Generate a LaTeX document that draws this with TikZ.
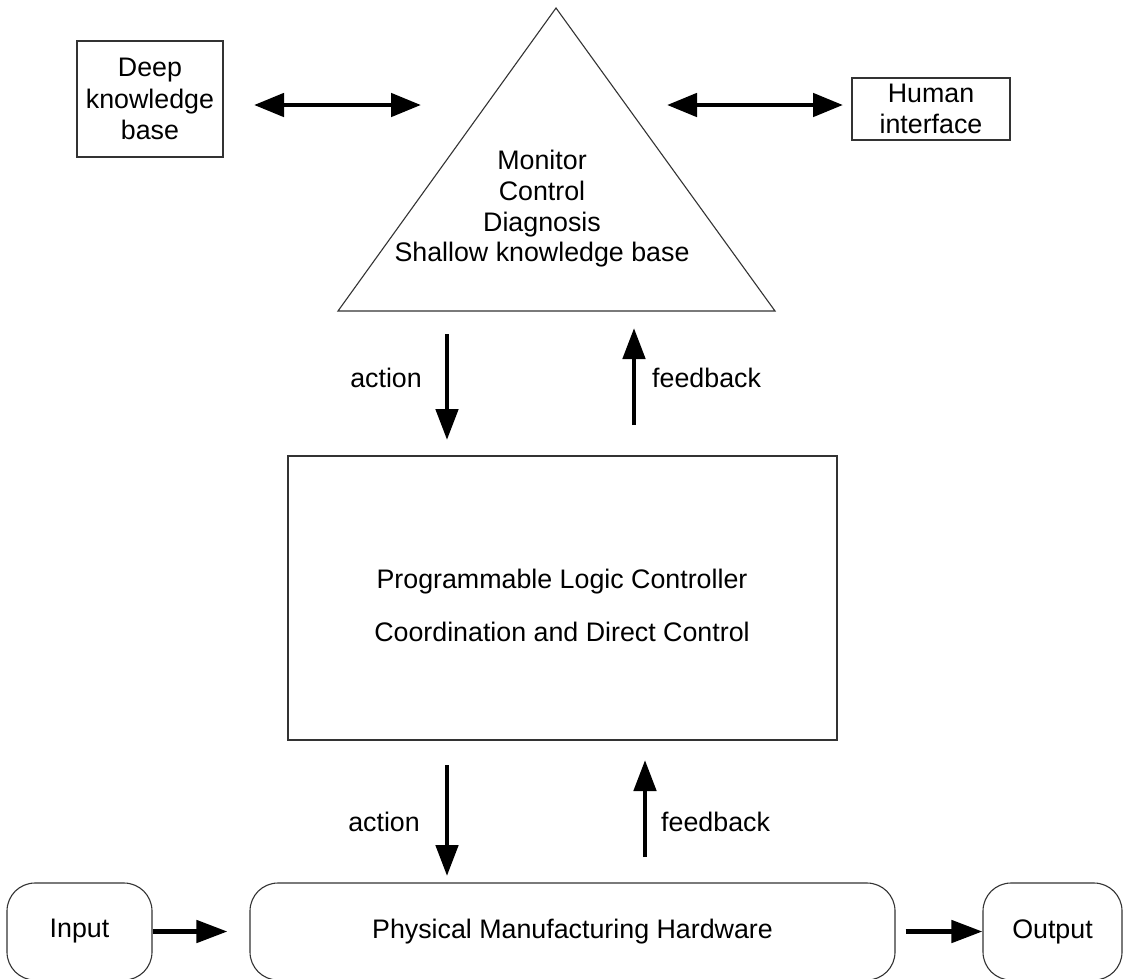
\documentclass[tikz,border=0pt]{standalone}
\usepackage{fontspec}
\setmainfont{Liberation Sans}
\usetikzlibrary{arrows.meta}
\begin{document}
\begin{tikzpicture}[x=1pt,y=-1pt,
  every node/.style={font=\fontsize{26.8}{31.5}\selectfont, inner sep=0pt, align=center},
  box/.style={draw=black!80, line width=1.1pt},
  rbox/.style={box, rounded corners=28pt},
  fat/.style={line width=4.8pt, -{Triangle[length=31pt,width=22pt]}},
  fatboth/.style={line width=4.8pt, {Triangle[length=30pt,width=23pt]}-{Triangle[length=30pt,width=23pt]}}
]
\useasboundingbox (0,0) rectangle (1126,978);
\clip (0,0) rectangle (1126,978);
\fill[white] (0,0) rectangle (1126,978);

% supervisory level: knowledge base, triangle, human interface
\node[box, minimum width=146pt, minimum height=116pt] (deep) at (150,99) {Deep\\knowledge\\base};
\node[box, minimum width=158pt, minimum height=62pt] (human) at (931,109) {Human\\interface};

\coordinate (apex) at (556,8);
\coordinate (bl) at (338,311);
\coordinate (br) at (775,311);
\draw[box] (apex) -- (br) -- (bl) -- cycle;
\node[font=\fontsize{26.8}{30.7}\selectfont] (sup) at (542,209)
  {Monitor\\Control\\Diagnosis\\Shallow knowledge base};

\coordinate (la1) at (254,105);
\coordinate (la2) at (421,105);
\coordinate (ra1) at (667,105);
\coordinate (ra2) at (843,105);
\draw[fatboth] (la1) -- (la2);
\draw[fatboth] (ra1) -- (ra2);

% controller level
\node[box, minimum width=549pt, minimum height=284pt] (plc) at (562.5,598) {};
\node (plc1) at (562,582) {Programmable Logic Controller};
\node (plc2) at (562,632) {Coordination and Direct Control};

\coordinate (a1s) at (447,334);
\coordinate (a1e) at (447,440);
\coordinate (f1s) at (634,425);
\coordinate (f1e) at (634,328);
\draw[fat] (a1s) -- (a1e);
\draw[fat] (f1s) -- (f1e);
\node[anchor=east] (act1) at (422,378) {action};
\node[anchor=west] (fb1) at (652,378) {feedback};

\coordinate (a2s) at (447,765);
\coordinate (a2e) at (447,876);
\coordinate (f2s) at (645,857);
\coordinate (f2e) at (645,760);
\draw[fat] (a2s) -- (a2e);
\draw[fat] (f2s) -- (f2e);
\node[anchor=east] (act2) at (420,822) {action};
\node[anchor=west] (fb2) at (661,822) {feedback};

% hardware level
\node[rbox, minimum width=145pt, minimum height=97pt] (input) at (79.5,931.5) {Input};
\node[rbox, minimum width=645pt, minimum height=97pt] (phys) at (572.5,931.5) {Physical Manufacturing Hardware};
\node[rbox, minimum width=139pt, minimum height=97pt] (output) at (1052.5,931.5) {Output};
\draw[fat, shorten >=22pt] (input.east) -- (phys.west);
\draw[fat, shorten <=10pt] (phys.east) -- (output.west);
\end{tikzpicture}
\end{document}
